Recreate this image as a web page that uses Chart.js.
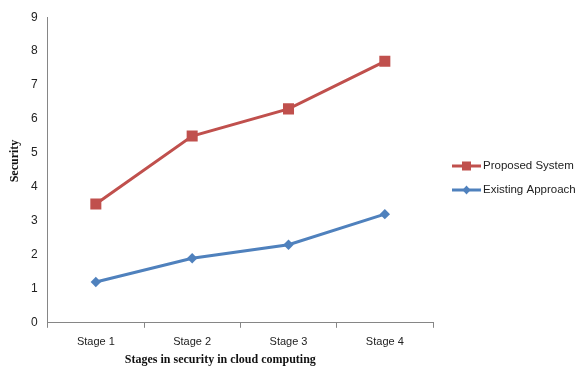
<!DOCTYPE html>
<html>
<head>
<meta charset="utf-8">
<script src="https://cdn.jsdelivr.net/npm/chart.js@4/dist/chart.umd.min.js"></script>
<style>
  html, body { margin: 0; padding: 0; background: #fff; }
  #wrap { width: 579px; height: 366px; }
</style>
</head>
<body>
<div id="wrap"><canvas id="c" width="579" height="366"></canvas></div>
<script>
const stages = ['Stage 1', 'Stage 2', 'Stage 3', 'Stage 4'];
const proposedSystem = [3.5, 5.5, 6.3, 7.7];
const existingApproach = [1.2, 1.9, 2.3, 3.2];
const yTicks = [0, 1, 2, 3, 4, 5, 6, 7, 8, 9];
const xTitle = 'Stages in security in cloud computing';
const yTitle = 'Security';

const RED = '#C0504D';
const BLUE = '#4F81BD';
const TEXT = '#222';

// Axis titles and a side legend (line + marker swatches) drawn after the datasets
const decorations = {
  id: 'decorations',
  afterDraw(chart) {
    const { ctx, chartArea } = chart;
    ctx.save();
    ctx.textBaseline = 'middle';

    // x-axis title
    ctx.fillStyle = '#111';
    ctx.font = 'bold 12px "Liberation Serif"';
    ctx.textAlign = 'center';
    ctx.fillText(xTitle, (chartArea.left + chartArea.right) / 2 - 20, 360);

    // y-axis title, rotated
    ctx.save();
    ctx.translate(15, (chartArea.top + chartArea.bottom) / 2 - 9);
    ctx.rotate(-Math.PI / 2);
    ctx.fillText(yTitle, 0, 0);
    ctx.restore();

    // legend
    const sets = chart.data.datasets;
    const x0 = chartArea.right + 19;
    const rowY = [166, 190];
    ctx.font = '11.5px "Liberation Sans"';
    ctx.textAlign = 'left';
    sets.forEach((ds, i) => {
      const y = rowY[i];
      ctx.strokeStyle = ds.borderColor;
      ctx.lineWidth = 3;
      ctx.beginPath(); ctx.moveTo(x0, y); ctx.lineTo(x0 + 29, y); ctx.stroke();
      ctx.fillStyle = ds.borderColor;
      const cx = x0 + 14.5;
      if (ds.pointStyle === 'rect') {
        ctx.fillRect(cx - 4.5, y - 4.5, 9, 9);
      } else {
        ctx.beginPath();
        ctx.moveTo(cx, y - 4.5); ctx.lineTo(cx + 4, y); ctx.lineTo(cx, y + 4.5); ctx.lineTo(cx - 4, y);
        ctx.closePath(); ctx.fill();
      }
      ctx.fillStyle = TEXT;
      ctx.fillText(ds.label, x0 + 31, y);
    });
    ctx.restore();
  }
};

new Chart(document.getElementById('c'), {
  type: 'line',
  data: {
    labels: stages,
    datasets: [
      {
        label: 'Proposed System',
        data: proposedSystem,
        borderColor: RED,
        backgroundColor: RED,
        borderWidth: 3,
        pointStyle: 'rect',
        pointRadius: 7.8,
        pointHoverRadius: 7.8,
        pointBorderWidth: 0,
        tension: 0
      },
      {
        label: 'Existing Approach',
        data: existingApproach,
        borderColor: BLUE,
        backgroundColor: BLUE,
        borderWidth: 3,
        pointStyle: 'rectRot',
        pointRadius: 5.2,
        pointHoverRadius: 5.2,
        pointBorderWidth: 0,
        tension: 0
      }
    ]
  },
  plugins: [decorations],
  options: {
    responsive: false,
    animation: false,
    layout: { padding: { top: 13, right: 146, left: 21, bottom: 9 } },
    plugins: {
      tooltip: { enabled: false },
      legend: { display: false }
    },
    scales: {
      x: {
        offset: true,
        grid: { offset: true, drawOnChartArea: false, tickLength: 5, color: '#868686' },
        border: { color: '#868686', width: 1 },
        ticks: { color: TEXT, font: { family: 'Liberation Sans', size: 11 }, padding: 8 }
      },
      y: {
        min: 0,
        max: 9,
        afterBuildTicks(scale) { scale.ticks = yTicks.map(v => ({ value: v })); },
        grid: { drawOnChartArea: false, drawTicks: false, color: '#868686' },
        border: { color: '#868686', width: 1 },
        ticks: { color: TEXT, font: { family: 'Liberation Sans', size: 12 }, padding: 10 }
      }
    }
  }
});
</script>
</body>
</html>
